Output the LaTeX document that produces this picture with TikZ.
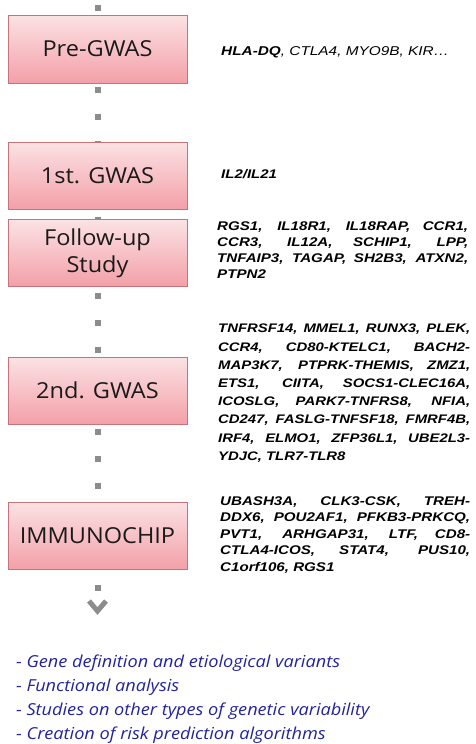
\documentclass[tikz,border=0pt]{standalone}
\usepackage{fontspec}
\setmainfont{Open Sans}
\newfontfamily\boxfont[FakeStretch=1.07]{Open Sans}
\newfontfamily\genefont[FakeStretch=1.2]{Liberation Sans}
\newfontfamily\notefont[FakeStretch=1.1]{Open Sans}
\definecolor{boxtop}{HTML}{FBE2E4}
\definecolor{boxbot}{HTML}{F3A0A8}
\definecolor{boxline}{HTML}{C8737A}
\definecolor{dotgray}{HTML}{8C8C8C}
\definecolor{notecolor}{HTML}{23239B}
\definecolor{boxtext}{HTML}{1A1A1A}
\begin{document}
\begin{tikzpicture}[x=1pt,y=-1pt,
  stagebox/.style={draw=boxline, line width=1pt, top color=boxtop, bottom color=boxbot,
    minimum width=179pt, minimum height=67pt, inner sep=0pt,
    font=\boxfont\fontsize{22}{27}\selectfont, text=boxtext, align=center},
  genes/.style={anchor=north west, inner sep=0pt, align=justify},
  dotconn/.style={draw=dotgray, line width=6pt, dash pattern=on 6pt off 21pt},
  chevron/.style={draw=dotgray, line width=5pt, miter limit=3}
]
\useasboundingbox (0,0) rectangle (476,744);

\node[stagebox, minimum height=68pt] (pre) at (97.5,49) {Pre-GWAS};
\node[stagebox] (first) at (97.5,175.5) {1st. GWAS};
\node[stagebox] (follow) at (97.5,253) {Follow-up\\Study};
\node[stagebox] (second) at (97.5,390.5) {2nd. GWAS};
\node[stagebox] (immuno) at (97.5,535.5) {IMMUNOCHIP};

\coordinate (top) at (97.5,0);
\coordinate (chev) at (97.5,592);

\draw[dotconn, dash phase=22pt] (top) -- (pre.north);
\draw[dotconn, dash phase=24pt] (pre.south) -- (first.north);
\draw[dotconn, dash phase=20pt] (first.south) -- (follow.north);
\draw[dotconn, dash phase=21pt] (follow.south) -- (second.north);
\draw[dotconn, dash phase=23pt] (second.south) -- (immuno.north);
\draw[dotconn, dash phase=12pt] (immuno.south) -- (chev);
\draw[chevron] (chev) ++(-8.5,9) -- ++(8.5,10) -- ++(8.5,-10);

\node[anchor=base west, inner sep=0pt, font=\genefont\fontsize{12.8}{16}\selectfont] (gpre) at (221,55)
  {\bfseries\itshape HLA-DQ\mdseries, CTLA4, MYO9B, KIR\ldots};
\node[anchor=base west, inner sep=0pt, font=\genefont\bfseries\itshape\fontsize{12.5}{16}\selectfont] (gfirst) at (221,178)
  {IL2/IL21};
\node[genes, text width=251pt, font=\genefont\bfseries\itshape\fontsize{12.6}{16}\selectfont] (gfollow) at (217,221.5)
  {RGS1, IL18R1, IL18RAP, CCR1,\linebreak CCR3, IL12A, SCHIP1, LPP,\linebreak TNFAIP3, TAGAP, SH2B3, ATXN2,\linebreak PTPN2};
\node[genes, text width=252pt, font=\genefont\bfseries\itshape\fontsize{12.4}{18.2}\selectfont] (gsecond) at (218,324)
  {TNFRSF14, MMEL1, RUNX3, PLEK,\linebreak CCR4, CD80-KTELC1, BACH2-\linebreak MAP3K7, PTPRK-THEMIS, ZMZ1,\linebreak ETS1, CIITA, SOCS1-CLEC16A,\linebreak ICOSLG, PARK7-TNFRS8, NFIA,\linebreak CD247, FASLG-TNFSF18, FMRF4B,\linebreak IRF4, ELMO1, ZFP36L1, UBE2L3-\linebreak YDJC, TLR7-TLR8};
\node[genes, text width=250pt, font=\genefont\bfseries\itshape\fontsize{12.6}{16.6}\selectfont] (gimmuno) at (220,496)
  {UBASH3A, CLK3-CSK, TREH-\linebreak DDX6, POU2AF1, PFKB3-PRKCQ,\linebreak PVT1, ARHGAP31, LTF, CD8-\linebreak CTLA4-ICOS, STAT4, PUS10,\linebreak C1orf106, RGS1};

\node[anchor=north west, inner sep=0pt, align=left, text=notecolor,
  font=\notefont\itshape\fontsize{16.5}{24.2}\selectfont] (notes) at (16,654.5)
  {- Gene definition and etiological variants\\
   - Functional analysis\\
   - Studies on other types of genetic variability\\
   - Creation of risk prediction algorithms};
\end{tikzpicture}
\end{document}
